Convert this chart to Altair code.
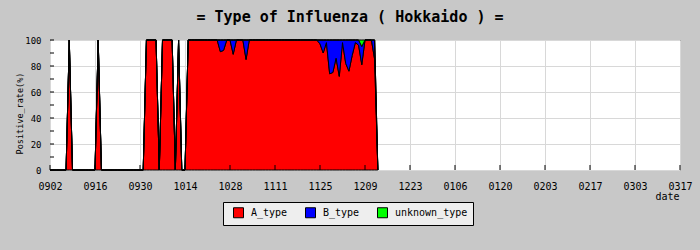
import altair as alt
import pandas as pd

title_text = "= Type of Influenza ( Hokkaido ) ="
tick_labels = ["0902", "0916", "0930", "1014", "1028", "1111", "1125", "1209",
               "1223", "0106", "0120", "0203", "0217", "0303", "0317"]
series_names = ["A_type", "B_type", "unknown_type"]
series_colors = ["#ff0000", "#0000ff", "#00ff00"]
y_label_values = [0, 20, 40, 60, 80, 100]
y_minor_ticks = [0, 10, 20, 30, 40, 50, 60, 70, 80, 90, 100]

# one value per day, starting at 09-02 (day 0)
a_type = [
    0, 0, 0, 0, 0, 0, 100, 0, 0, 0,
    0, 0, 0, 0, 0, 100, 0, 0, 0, 0,
    0, 0, 0, 0, 0, 0, 0, 0, 0, 0,
    100, 100, 100, 100, 0, 100, 100, 100, 100, 0,
    100, 0, 0, 100, 100, 100, 100, 100, 100, 100,
    100, 100, 100, 91, 92, 100, 100, 89, 100, 100,
    100, 85, 100, 100, 100, 100, 100, 100, 100, 100,
    100, 100, 100, 100, 100, 100, 100, 100, 100, 100,
    100, 100, 100, 100, 97, 90, 98, 74, 75, 86,
    72, 98, 82, 76, 88, 98, 96, 81, 100, 100,
    100, 85, 0,
]
b_type = [
    0, 0, 0, 0, 0, 0, 0, 0, 0, 0,
    0, 0, 0, 0, 0, 0, 0, 0, 0, 0,
    0, 0, 0, 0, 0, 0, 0, 0, 0, 0,
    0, 0, 0, 0, 0, 0, 0, 0, 0, 0,
    0, 0, 0, 0, 0, 0, 0, 0, 0, 0,
    0, 0, 0, 9, 8, 0, 0, 11, 0, 0,
    0, 15, 0, 0, 0, 0, 0, 0, 0, 0,
    0, 0, 0, 0, 0, 0, 0, 0, 0, 0,
    0, 0, 0, 0, 3, 10, 2, 26, 25, 14,
    28, 2, 18, 24, 12, 2, 4, 14, 0, 0,
    0, 15, 0,
]
unknown_type = [
    0, 0, 0, 0, 0, 0, 0, 0, 0, 0,
    0, 0, 0, 0, 0, 0, 0, 0, 0, 0,
    0, 0, 0, 0, 0, 0, 0, 0, 0, 0,
    0, 0, 0, 0, 0, 0, 0, 0, 0, 0,
    0, 0, 0, 0, 0, 0, 0, 0, 0, 0,
    0, 0, 0, 0, 0, 0, 0, 0, 0, 0,
    0, 0, 0, 0, 0, 0, 0, 0, 0, 0,
    0, 0, 0, 0, 0, 0, 0, 0, 0, 0,
    0, 0, 0, 0, 0, 0, 0, 0, 0, 0,
    0, 0, 0, 0, 0, 0, 0, 5, 0, 0,
    0, 0, 0,
]

rows = []
for order, (name, vals) in enumerate(zip(series_names, [a_type, b_type, unknown_type])):
    for day, v in enumerate(vals):
        rows.append({"day": day, "value": v, "series": name, "ord": order})
df = pd.DataFrame(rows)

tick_days = [14 * i for i in range(len(tick_labels))]
label_js = "[" + ",".join("'" + t + "'" for t in tick_labels) + "]"
label_expr = label_js + "[round(datum.value / 14)]"

FONT = "DejaVu Sans Mono"

x_scale = alt.Scale(domain=[0, tick_days[-1]], nice=False, zero=False)
y_scale = alt.Scale(domain=[0, 100], nice=False)

x_axis = alt.Axis(
    values=tick_days, labelExpr=label_expr, grid=True, gridColor="#d8d8d8",
    ticks=False, tickSize=0, domain=False, labelFont=FONT, labelFontSize=10,
    labelColor="black", labelPadding=11, labelFlush=False, labelOverlap=False,
    title="date", titleFont=FONT, titleFontSize=10, titleFontWeight="normal",
    titleColor="black", titleX=629, titleY=29, titleAlign="right",
    titleBaseline="alphabetic", titleAnchor="end",
)
y_axis = alt.Axis(
    values=y_label_values, grid=True, gridColor="#d8d8d8", ticks=False,
    tickSize=0, domain=False, labelFont=FONT, labelFontSize=9,
    labelColor="black", labelPadding=9, labelFlush=False, labelOverlap=False,
    title="Positive_rate(%)", titleFont=FONT, titleFontSize=8.5,
    titleFontWeight="normal", titleColor="black", titleX=-31, titleY=73,
    titleAlign="center", titleBaseline="middle", titleAngle=-90,
)

area = alt.Chart(df).mark_area(
    interpolate="linear", opacity=1, stroke="black", strokeWidth=1,
).encode(
    x=alt.X("day:Q", scale=x_scale, axis=x_axis),
    y=alt.Y("value:Q", stack="zero", scale=y_scale, axis=y_axis),
    color=alt.Color(
        "series:N",
        scale=alt.Scale(domain=series_names, range=series_colors),
        legend=alt.Legend(
            title=None, orient="none", legendX=173, legendY=162,
            direction="horizontal", symbolType="square", symbolSize=100,
            symbolStrokeColor="black", symbolStrokeWidth=1, symbolOpacity=1,
            labelFont=FONT, labelFontSize=10, labelColor="black", labelOffset=7,
            columnPadding=12, padding=5, symbolOffset=5,
            fillColor="#eeeeee", strokeColor="black",
        ),
    ),
    order=alt.Order("ord:Q", sort="ascending"),
)

xt = alt.Chart(pd.DataFrame({"day": tick_days})).mark_rule(
    color="black", strokeWidth=1
).encode(x=alt.X("day:Q", scale=x_scale, axis=x_axis), y=alt.value(125), y2=alt.value(130))

yt = alt.Chart(pd.DataFrame({"value": y_minor_ticks})).mark_rule(
    color="black", strokeWidth=1
).encode(y=alt.Y("value:Q", scale=y_scale, axis=y_axis), x=alt.value(0), x2=alt.value(4))

chart = alt.layer(area, xt, yt).properties(
    width=630, height=130,
    autosize=alt.AutoSizeParams(type="none"),
    padding={"left": 50, "top": 40, "right": 20, "bottom": 80},
    background="#c8c8c8",
    title=alt.TitleParams(
        text=title_text, font=FONT, fontSize=15, fontWeight="bold",
        color="black", anchor="middle", dx=-15, dy=19, offset=18,
        baseline="alphabetic", frame="group",
    ),
).configure_view(stroke="black", strokeWidth=1, fill="white")

chart.save("out.html", embed_options={"renderer": "svg", "actions": False})
